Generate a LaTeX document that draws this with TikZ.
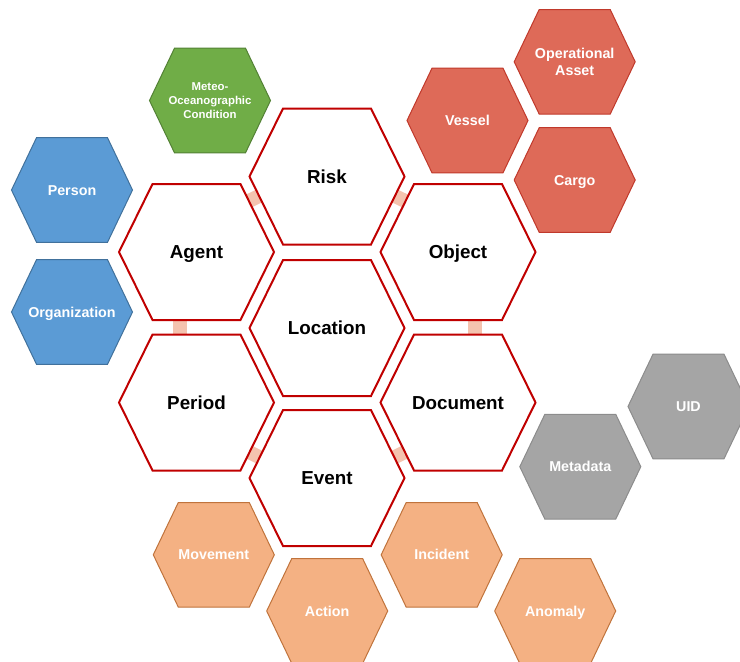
\documentclass[tikz,border=0pt]{standalone}
\usepackage{fontspec}
\setmainfont{Liberation Sans}
\usetikzlibrary{calc}
\pgfdeclarelayer{connlayer}
\pgfdeclarelayer{hexlayer}
\pgfsetlayers{connlayer,hexlayer,main}
\definecolor{bigred}{HTML}{C00000}
\definecolor{greenfill}{HTML}{70AD47}
\definecolor{greenline}{HTML}{538135}
\definecolor{bluefill}{HTML}{5B9BD5}
\definecolor{blueline}{HTML}{41719C}
\definecolor{redfill}{HTML}{DE6A58}
\definecolor{redline}{HTML}{C0392B}
\definecolor{orangefill}{HTML}{F4B183}
\definecolor{orangeline}{HTML}{C0733C}
\definecolor{grayfill}{HTML}{A5A5A5}
\definecolor{grayline}{HTML}{8C8C8C}
\definecolor{connpink}{HTML}{F4C3AF}
\tikzset{
  lbl/.style={font=\bfseries\fontsize{18.8}{22}\selectfont, text=black, inner sep=0pt, text height=13.5pt, text depth=0pt},
  slbl/.style={font=\bfseries\fontsize{14.3}{16.7}\selectfont, text=white, inner sep=0pt, text height=10.3pt, text depth=0pt},
  mlbl/.style={font=\bfseries\fontsize{14.3}{16.7}\selectfont, text=white, inner sep=0pt, align=center},
  tlbl/.style={font=\bfseries\fontsize{11.4}{14.3}\selectfont, text=white, inner sep=0pt, align=center},
  bighex/.style={draw=bigred, line width=2pt, fill=white, line join=miter},
  greenhex/.style={draw=greenline, line width=1pt, fill=greenfill},
  bluehex/.style={draw=blueline, line width=1pt, fill=bluefill},
  redhex/.style={draw=redline, line width=1pt, fill=redfill},
  orangehex/.style={draw=orangeline, line width=1pt, fill=orangefill},
  grayhex/.style={draw=grayline, line width=1pt, fill=grayfill},
  conn/.style={draw=connpink, line width=14pt, line cap=butt}
}
\newcommand\hexshape[5]{%
  \begin{pgfonlayer}{hexlayer}
  \path[#5] ([shift={(-#2,0)}]#1.center) -- ([shift={(-#3,-#4)}]#1.center) -- ([shift={(#3,-#4)}]#1.center) -- ([shift={(#2,0)}]#1.center) -- ([shift={(#3,#4)}]#1.center) -- ([shift={(-#3,#4)}]#1.center) -- cycle;
  \end{pgfonlayer}}
\newcommand\bighexat[1]{\hexshape{#1}{77.5}{44}{68}{bighex}}
\newcommand\smallhexat[2]{\hexshape{#1}{60.5}{35.5}{52.3}{#2}}
\begin{document}
\begin{tikzpicture}[x=1pt,y=-1pt]
\useasboundingbox (0,0) rectangle (740,662);
\clip (0,0) rectangle (740,662);
% central hexagons
\node[lbl] (risk) at (327,176.5) {Risk};
\node[lbl] (agent) at (196.5,252) {Agent};
\node[lbl] (object) at (458,252) {Object};
\node[lbl] (location) at (327,328) {Location};
\node[lbl] (period) at (196.5,402.5) {Period};
\node[lbl] (document) at (458,402.5) {Document};
\node[lbl] (event) at (327,478) {Event};
\bighexat{risk}\bighexat{agent}\bighexat{object}\bighexat{location}
\bighexat{period}\bighexat{document}\bighexat{event}
% satellite hexagons
\node[tlbl] (meteo) at (210,100.5) {Meteo-\\Oceanographic\\Condition};
\smallhexat{meteo}{greenhex}
\node[slbl] (person) at (72,190) {Person};
\smallhexat{person}{bluehex}
\node[slbl] (organization) at (72,312) {Organization};
\smallhexat{organization}{bluehex}
\node[slbl] (vessel) at (467.5,120.5) {Vessel};
\smallhexat{vessel}{redhex}
\node[mlbl] (opasset) at (574.7,61.8) {Operational\\Asset};
\smallhexat{opasset}{redhex}
\node[slbl] (cargo) at (574.7,180) {Cargo};
\smallhexat{cargo}{redhex}
\node[slbl] (uid) at (688.5,406.5) {UID};
\smallhexat{uid}{grayhex}
\node[slbl] (metadata) at (580.3,466.7) {Metadata};
\smallhexat{metadata}{grayhex}
\node[slbl] (movement) at (213.8,554.8) {Movement};
\smallhexat{movement}{orangehex}
\node[slbl] (action) at (327.2,611) {Action};
\smallhexat{action}{orangehex}
\node[slbl] (incident) at (441.7,554.8) {Incident};
\smallhexat{incident}{orangehex}
\node[slbl] (anomaly) at (555.2,611) {Anomaly};
\smallhexat{anomaly}{orangehex}
% connectors
\begin{pgfonlayer}{connlayer}
\draw[conn] ([shift={(-16.5,60)}]agent.center) -- ([shift={(-16.5,-60)}]period.center);
\draw[conn] ([shift={(16.5,60)}]object.center) -- ([shift={(16.5,-60)}]document.center);
\draw[conn] ([shift={(40.5,-45.3)}]agent.center) -- ([shift={(-54,12.8)}]risk.center);
\draw[conn] ([shift={(-41,-45.3)}]object.center) -- ([shift={(54,12.8)}]risk.center);
\draw[conn] ([shift={(40.5,43.7)}]period.center) -- ([shift={(-54,-14.2)}]event.center);
\draw[conn] ([shift={(-41,43.7)}]document.center) -- ([shift={(54,-14.2)}]event.center);
\end{pgfonlayer}
\end{tikzpicture}
\end{document}
